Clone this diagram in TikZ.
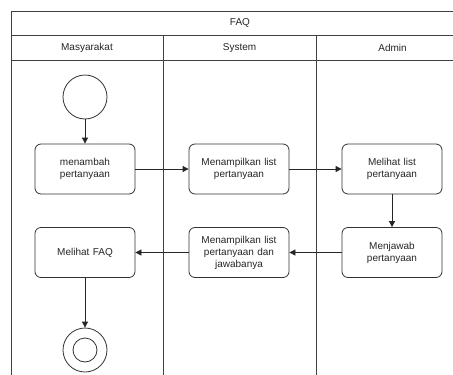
\documentclass[tikz,border=0pt]{standalone}
\usepackage{fontspec}
\setmainfont{Liberation Sans}
\usetikzlibrary{arrows.meta}
\begin{document}
\begin{tikzpicture}[x=1pt,y=-1pt,
  every node/.style={font=\fontsize{10}{12}\selectfont, text=black!85},
  lane/.style={draw=black!75, line width=0.8pt},
  act/.style={draw=black!80, line width=0.8pt, rounded corners=6pt,
    minimum width=100pt, minimum height=50pt, align=center, text width=92pt},
  initial/.style={draw=black!80, line width=0.8pt, circle, minimum size=44pt, inner sep=0pt},
  final/.style={draw=black!80, line width=0.8pt, circle, double, double distance=7pt,
    minimum size=24pt, inner sep=0pt},
  flow/.style={draw=black!85, line width=0.8pt, -{Triangle[length=6pt,width=6pt]}}]
\useasboundingbox (0,0) rectangle (453,375);
\fill[white] (0,0) rectangle (453,375);
\begin{scope}
\clip (0,0) rectangle (453,375);
% swimlane frame
\draw[lane] (11,400) -- (11,11) -- (469,11) -- (469,400);
\draw[lane] (11,35) -- (469,35);
\draw[lane] (11,60) -- (469,60);
\draw[lane] (163,35) -- (163,400);
\draw[lane] (316,35) -- (316,400);
\end{scope}
% titles
\node (title) at (240,23) {FAQ};
\node (lm) at (87,48) {Masyarakat};
\node (ls) at (239.5,48) {System};
\node (la) at (392.5,48) {Admin};
% activities
\node[initial] (start) at (85,97) {};
\node[act] (tambah) at (85,169) {menambah\\pertanyaan};
\node[act] (list) at (239,169) {Menampilkan list\\pertanyaan};
\node[act] (lihat) at (392,169) {Melihat list\\pertanyaan};
\node[act] (jawab) at (392,252.5) {Menjawab\\pertanyaan};
\node[act] (listjawab) at (239,252.5) {Menampilkan list\\pertanyaan dan\\jawabanya};
\node[act] (faq) at (85,252.5) {Melihat FAQ};
\node[draw=black!80, line width=0.8pt, circle, minimum size=44pt, inner sep=0pt] (end) at (85,350) {};
\node[draw=black!80, line width=0.8pt, circle, minimum size=24pt, inner sep=0pt] (endin) at (85,350) {};
% flows
\draw[flow] (start) -- (tambah);
\draw[flow] (tambah) -- (list);
\draw[flow] (list) -- (lihat);
\draw[flow] (lihat) -- (jawab);
\draw[flow] (jawab) -- (listjawab);
\draw[flow] (listjawab) -- (faq);
\draw[flow] (faq) -- (end);
\end{tikzpicture}
\end{document}
